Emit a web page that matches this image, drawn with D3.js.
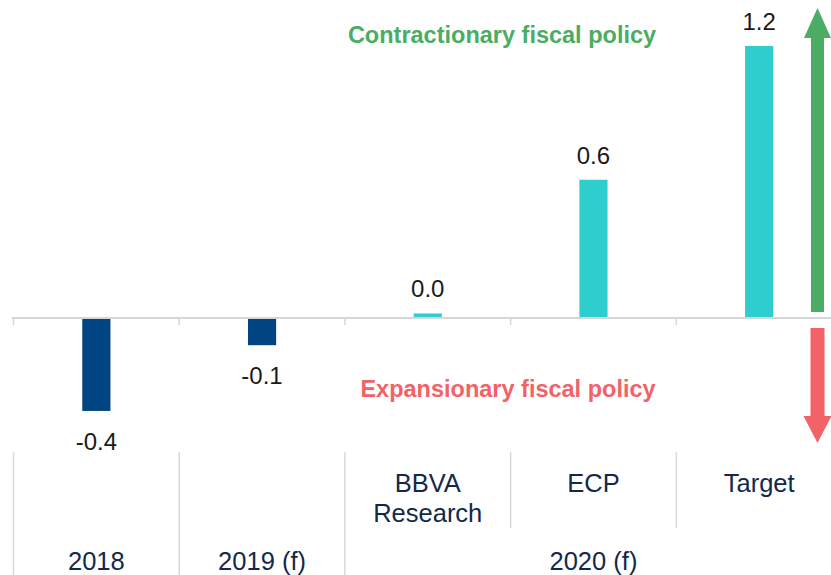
<!DOCTYPE html>
<html>
<head>
<meta charset="utf-8">
<script src="https://cdn.jsdelivr.net/npm/d3@7"></script>
<style>
  html, body { margin: 0; padding: 0; background: #fff; }
  svg { display: block; font-family: "Liberation Sans", Arial, sans-serif; }
</style>
</head>
<body>
<svg id="chart"></svg>
<script>
// Fiscal effort chart data
const categories = ['2018', '2019 (f)', 'BBVA Research', 'ECP', 'Target'];
const values = [-0.41, -0.12, 0.02, 0.61, 1.2];
const subLabels = [[], [], ['BBVA', 'Research'], ['ECP'], ['Target']];
const groupLabels = ['2018', '2019 (f)', '2020 (f)'];
const groupSizes = [1, 1, 3];
const upLabel = 'Contractionary fiscal policy';
const downLabel = 'Expansionary fiscal policy';

const width = 831;
const height = 575;

const svg = d3.select('#chart')
  .attr('width', width)
  .attr('height', height)
  .attr('viewBox', `0 0 ${width} ${height}`);

// Scales
const x = d3.scaleBand()
  .domain(categories)
  .range([13.5, 842])
  .paddingInner(0.83)
  .paddingOuter(0.415);

const y = d3.scaleLinear()
  .domain([0, 1.2])
  .range([318, 46]);

const zeroY = y(0);
const step = x.step();
const x0 = x.range()[0];
const fmt = v => d3.format('.1f')(v).replace('\u2212', '-');

// Bars
svg.append('g')
  .selectAll('rect')
  .data(values)
  .join('rect')
  .attr('x', (d, i) => x(categories[i]))
  .attr('width', x.bandwidth())
  .attr('y', d => Math.min(y(d), zeroY))
  .attr('height', d => Math.abs(y(d) - zeroY))
  .attr('fill', (d, i) => i < 2 ? '#004481' : '#2ecece');

// Zero axis line and ticks at band boundaries
svg.append('line')
  .attr('x1', 12).attr('x2', width)
  .attr('y1', zeroY).attr('y2', zeroY)
  .attr('stroke', '#d6d6d6')
  .attr('stroke-width', 2);

d3.range(categories.length + 1).forEach(i => {
  svg.append('line')
    .attr('x1', x0 + i * step).attr('x2', x0 + i * step)
    .attr('y1', zeroY).attr('y2', zeroY + 7)
    .attr('stroke', '#d6d6d6')
    .attr('stroke-width', 1.5);
});

// Value labels
svg.append('g')
  .selectAll('text')
  .data(values)
  .join('text')
  .attr('x', (d, i) => x(categories[i]) + x.bandwidth() / 2)
  .attr('y', d => d < 0 ? y(d) + 39 : y(d) - 16)
  .attr('text-anchor', 'middle')
  .attr('font-size', '24px')
  .attr('fill', '#1a1a1a')
  .text(fmt);

// Category label area dividers
const labelTop = 452;
let groupStart = 0;
const outerIdx = [0];
groupSizes.forEach(n => { groupStart += n; outerIdx.push(groupStart); });
d3.range(categories.length + 1).forEach(i => {
  const isOuter = outerIdx.includes(i);
  svg.append('line')
    .attr('x1', x0 + i * step).attr('x2', x0 + i * step)
    .attr('y1', labelTop).attr('y2', isOuter ? height : 528)
    .attr('stroke', '#d9d9d9')
    .attr('stroke-width', 1.5);
});

// Sub-category labels
subLabels.forEach((lines, i) => {
  const cx = x(categories[i]) + x.bandwidth() / 2;
  lines.forEach((t, j) => {
    svg.append('text')
      .attr('x', cx)
      .attr('y', 492 + j * 30)
      .attr('text-anchor', 'middle')
      .attr('font-size', '25.5px')
      .attr('fill', '#13294b')
      .text(t);
  });
});

// Group labels
let gi = 0;
groupLabels.forEach((g, k) => {
  const left = x0 + gi * step;
  const right = x0 + (gi + groupSizes[k]) * step;
  gi += groupSizes[k];
  svg.append('text')
    .attr('x', (left + right) / 2)
    .attr('y', 570)
    .attr('text-anchor', 'middle')
    .attr('font-size', '25.5px')
    .attr('fill', '#13294b')
    .text(g);
});

// Direction arrows on the right
const green = '#4aad63';
const red = '#f26266';
const ax = 817.5;

svg.append('rect')
  .attr('x', ax - 6.5).attr('width', 13)
  .attr('y', 37).attr('height', zeroY - 6 - 37)
  .attr('fill', green);
svg.append('path')
  .attr('d', `M${ax - 13.5},38 L${ax},8 L${ax + 13.5},38 Z`)
  .attr('fill', green);

svg.append('rect')
  .attr('x', ax - 7).attr('width', 14)
  .attr('y', zeroY + 10).attr('height', 417 - zeroY - 10)
  .attr('fill', red);
svg.append('path')
  .attr('d', `M${ax - 14},416 L${ax},443 L${ax + 14},416 Z`)
  .attr('fill', red);

// Direction titles
svg.append('text')
  .attr('x', 502)
  .attr('y', 43)
  .attr('text-anchor', 'middle')
  .attr('font-size', '23.5px')
  .attr('font-weight', 'bold')
  .attr('fill', green)
  .text(upLabel);

svg.append('text')
  .attr('x', 508)
  .attr('y', 397)
  .attr('text-anchor', 'middle')
  .attr('font-size', '23.5px')
  .attr('font-weight', 'bold')
  .attr('fill', red)
  .text(downLabel);
</script>
</body>
</html>
